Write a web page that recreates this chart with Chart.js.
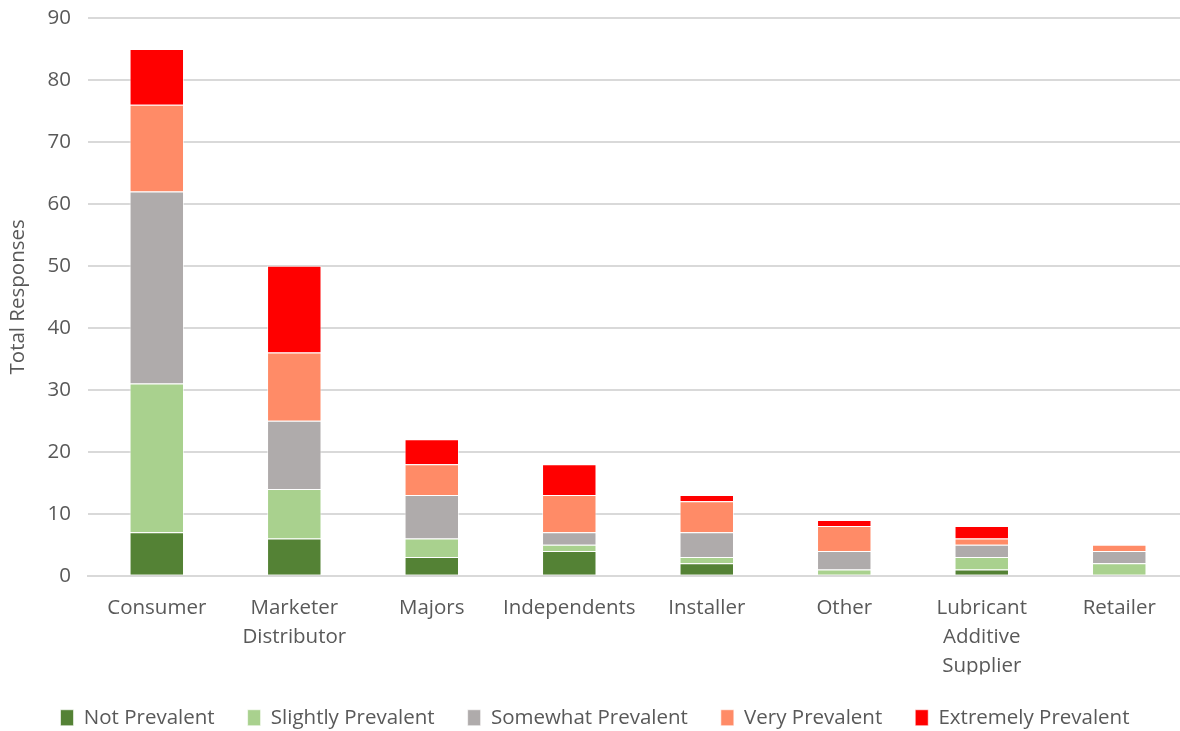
<!DOCTYPE html>
<html>
<head>
<meta charset="utf-8">
<script src="https://cdn.jsdelivr.net/npm/chart.js@4.4.1/dist/chart.umd.min.js"></script>
<style>
  html, body { margin: 0; padding: 0; background: #fff; overflow: hidden; }
  #wrap { width: 1188px; height: 738px; position: relative; }
</style>
</head>
<body>
<div id="wrap"><canvas id="chart"></canvas></div>
<script>
/* ================================
   Data
================================ */
const categories = [
  "Consumer",
  ["Marketer", "Distributor"],
  "Majors",
  "Independents",
  "Installer",
  "Other",
  ["Lubricant", "Additive", "Supplier"],
  "Retailer"
];

const notPrevalent       = [7, 6, 3, 4, 2, 0, 1, 0];
const slightlyPrevalent  = [24, 8, 3, 1, 1, 1, 2, 2];
const somewhatPrevalent  = [31, 11, 7, 2, 4, 3, 2, 2];
const veryPrevalent      = [14, 11, 5, 6, 5, 4, 1, 1];
const extremelyPrevalent = [9, 14, 4, 5, 1, 1, 2, 0];

const yTicks = [0, 10, 20, 30, 40, 50, 60, 70, 80, 90];

/* ================================
   Chart
================================ */
const FONT = "'Open Sans', sans-serif";
const FSIZE = 20.5;
const GREY = "#595959";

function series(label, data, color) {
  return {
    label,
    data,
    backgroundColor: color,
    borderColor: "rgba(255,255,255,0.6)",
    borderWidth: 1,
    barPercentage: 0.8,
    categoryPercentage: 0.495
  };
}

new Chart(document.getElementById("chart"), {
  type: "bar",
  data: {
    labels: categories,
    datasets: [
      series("Not Prevalent", notPrevalent, "#548235"),
      series("Slightly Prevalent", slightlyPrevalent, "#A9D18E"),
      series("Somewhat Prevalent", somewhatPrevalent, "#AFABAB"),
      series("Very Prevalent", veryPrevalent, "#FF8B67"),
      series("Extremely Prevalent", extremelyPrevalent, "#FF0000")
    ]
  },
  options: {
    responsive: true,
    maintainAspectRatio: false,
    animation: false,
    layout: { autoPadding: false, padding: { left: 2, right: 0, top: 18, bottom: 0 } },
    plugins: {
      tooltip: { enabled: false },
      legend: {
        position: "bottom",
        labels: {
          font: { family: FONT, size: FSIZE },
          color: GREY,
          boxWidth: 13,
          boxHeight: 16,
          padding: 33
        }
      }
    },
    scales: {
      x: {
        stacked: true,
        grid: { display: false, drawTicks: false },
        border: { color: "#d9d9d9", width: 2 },
        ticks: {
          font: { family: FONT, size: FSIZE, lineHeight: 1.42 },
          color: GREY,
          maxRotation: 0,
          autoSkip: false,
          padding: 18
        },
        // labels need less room than the axis reserves
        afterFit: axis => { axis.height -= 24.5; }
      },
      y: {
        stacked: true,
        min: 0,
        max: 90,
        afterBuildTicks: axis => { axis.ticks = yTicks.map(v => ({ value: v })); },
        afterFit: axis => { axis.paddingTop = 0; },
        grid: { color: "#d9d9d9", lineWidth: 2, drawTicks: false },
        border: { display: false },
        ticks: {
          font: { family: FONT, size: FSIZE },
          color: GREY,
          padding: 17
        },
        title: {
          display: true,
          text: "Total Responses",
          font: { family: FONT, size: FSIZE },
          color: GREY,
          padding: { bottom: 0 }
        }
      }
    }
  }
});
</script>
</body>
</html>
